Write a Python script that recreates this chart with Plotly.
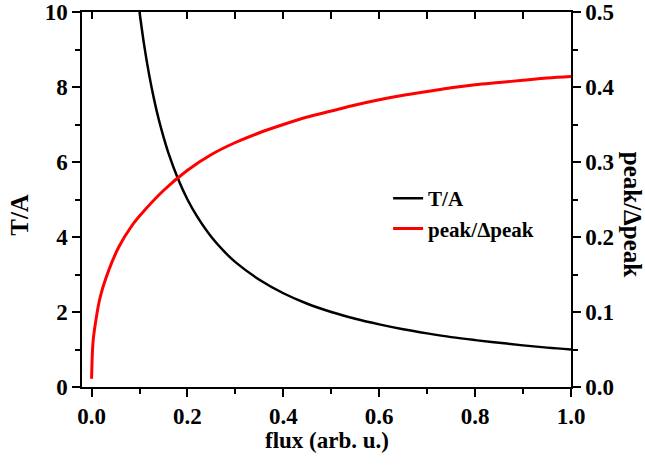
import plotly.graph_objects as go

# Black curve: T/A vs flux (left axis)
flux_ta = [0.1, 0.11, 0.12, 0.13, 0.14, 0.15, 0.16, 0.18, 0.2, 0.22, 0.25, 0.28, 0.3,
           0.35, 0.4, 0.45, 0.5, 0.55, 0.6, 0.65, 0.7, 0.75, 0.8, 0.85, 0.9, 0.95, 1.0]
ta_vals = [10.0, 9.09, 8.33, 7.69, 7.14, 6.67, 6.25, 5.56, 5.0, 4.55, 4.0, 3.57, 3.33,
           2.86, 2.5, 2.22, 2.0, 1.82, 1.67, 1.54, 1.43, 1.33, 1.25, 1.18, 1.11, 1.05, 1.0]

# Red curve: peak/Δpeak vs flux (right axis)
flux_pk = [0.0, 0.003, 0.008, 0.018, 0.036, 0.057, 0.085, 0.1, 0.15, 0.2, 0.25,
           0.3, 0.35, 0.4, 0.45, 0.5, 0.55, 0.6, 0.65, 0.7, 0.75, 0.8, 0.85, 0.9, 0.95, 1.0]
pk_vals = [0.011, 0.06, 0.085, 0.12, 0.156, 0.187, 0.216, 0.228, 0.262, 0.289, 0.310,
           0.326, 0.339, 0.350, 0.360, 0.368, 0.376, 0.383, 0.389, 0.394, 0.399, 0.403,
           0.406, 0.409, 0.412, 0.414]

x_ticks = [0.0, 0.2, 0.4, 0.6, 0.8, 1.0]
y_left_ticks = [0, 2, 4, 6, 8, 10]
y_right_ticks = [0.0, 0.1, 0.2, 0.3, 0.4, 0.5]

FONT = "Liberation Serif, Times New Roman, serif"
tick_font = dict(family=FONT, size=23, color="black", weight="bold")

fig = go.Figure()
fig.add_trace(go.Scatter(x=flux_ta, y=ta_vals, mode="lines", name="T/A",
                         line=dict(color="black", width=2.5, shape="spline"),
                         xaxis="x", yaxis="y"))
fig.add_trace(go.Scatter(x=flux_pk, y=pk_vals, mode="lines", name="peak/Δpeak",
                         line=dict(color="#ff0000", width=3, shape="spline", smoothing=1),
                         xaxis="x", yaxis="y2"))
# invisible trace to make the top axis render
fig.add_trace(go.Scatter(x=[0.5], y=[5], mode="markers", marker=dict(opacity=0),
                         xaxis="x2", yaxis="y", showlegend=False, hoverinfo="skip"))

axis_common = dict(showgrid=False, zeroline=False, showline=True, linecolor="black",
                   linewidth=1.5, tickcolor="black", tickwidth=1.5,
                   ticklabeloverflow="allow", automargin=False)

fig.update_layout(
    width=645, height=470,
    margin=dict(l=82, r=74, t=12, b=83),
    paper_bgcolor="white", plot_bgcolor="white",
    font=dict(family=FONT, color="black"),
    xaxis=dict(range=[-0.02, 1.0], tickvals=x_ticks, ticktext=[f"{v:.1f}" for v in x_ticks],
               ticks="outside", ticklen=8, tickfont=tick_font,
               minor=dict(dtick=0.1, tick0=0, ticks="outside", ticklen=5,
                          tickcolor="black", tickwidth=1.5),
               **axis_common),
    xaxis2=dict(range=[-0.02, 1.0], overlaying="x", side="top", anchor="y",
                tick0=0, dtick=0.1, ticks="inside", ticklen=7, showticklabels=False,
                **axis_common),
    yaxis=dict(range=[0, 10], tickvals=y_left_ticks, ticks="outside", ticklen=8,
               tickfont=tick_font,
               minor=dict(dtick=1, tick0=0, ticks="outside", ticklen=5,
                          tickcolor="black", tickwidth=1.5),
               **axis_common),
    yaxis2=dict(range=[0, 0.5], overlaying="y", side="right", anchor="x",
                tickvals=y_right_ticks, ticktext=[f"{v:.1f}" for v in y_right_ticks],
                ticks="outside", ticklen=8, tickfont=tick_font,
                minor=dict(dtick=0.05, tick0=0, ticks="outside", ticklen=5,
                           tickcolor="black", tickwidth=1.5),
                **axis_common),
    legend=dict(x=0.626, y=0.557, xanchor="left", yanchor="top",
                bgcolor="rgba(0,0,0,0)",
                font=dict(family=FONT, size=21, color="black", weight="bold"),
                tracegroupgap=0),
    showlegend=True,
)

fig.add_annotation(text="flux (arb. u.)", xref="paper", yref="paper", x=0.5, y=-0.144,
                   xanchor="center", yanchor="middle", showarrow=False,
                   font=dict(family=FONT, size=23, color="black", weight="bold"))
fig.add_annotation(text="T/A", xref="paper", yref="paper", x=-0.127, y=0.459,
                   xanchor="center", yanchor="middle", showarrow=False, textangle=-90,
                   font=dict(family=FONT, size=25, color="black", weight="bold"))
fig.add_annotation(text="peak/Δpeak", xref="paper", yref="paper", x=1.125, y=0.459,
                   xanchor="center", yanchor="middle", showarrow=False, textangle=90,
                   font=dict(family=FONT, size=25, color="black", weight="bold"))

fig.write_html("out.html", config={"displayModeBar": False},
               post_script="document.body.style.margin='0px';document.body.style.overflow='hidden';")
